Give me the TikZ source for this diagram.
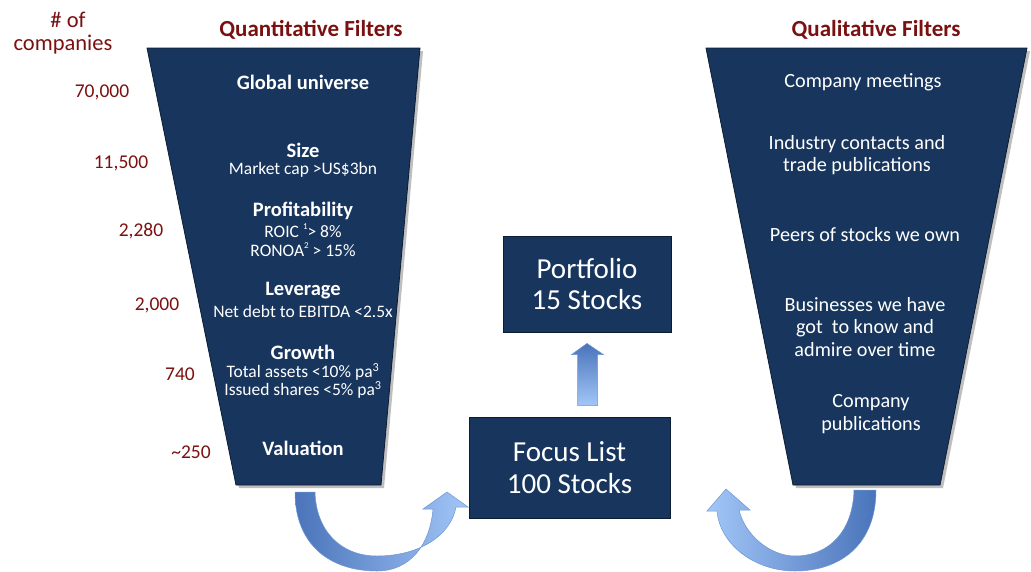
\documentclass[tikz,border=0pt]{standalone}
\usepackage{fontspec}
\setmainfont{Carlito}
\usetikzlibrary{calc}
\definecolor{navy}{RGB}{24,54,93}
\definecolor{navyedge}{RGB}{12,28,50}
\definecolor{darkred}{RGB}{122,16,16}
\definecolor{arrdark}{RGB}{74,116,186}
\definecolor{arrlight}{RGB}{162,198,248}
\definecolor{arredge}{RGB}{110,150,210}
\newcommand{\fs}[2]{\fontsize{#1}{#2}\selectfont}
\newcommand{\sups}[1]{\raisebox{0.45em}{\fs{9}{9}#1}}
\tikzset{
  funnel/.style={fill=navy, draw=navyedge, line width=0.8pt},
  boxnode/.style={fill=navy, draw=navyedge, line width=0.8pt, text=white, align=center, font=\fs{29}{31.5}, inner sep=0pt},
  head/.style={text=darkred, font=\bfseries\fs{23}{23}},
  count/.style={text=darkred, font=\fs{19.5}{20}},
  qhead/.style={text=white, font=\bfseries\fs{20.5}{21}},
  qsub/.style={text=white, font=\fs{17.5}{18}},
  qual/.style={text=white, font=\fs{20.2}{22.5}, align=center},
  bigarrow/.style={draw=arredge, line width=0.5pt}
}
\begin{document}
\begin{tikzpicture}[x=1pt,y=-1pt]
\useasboundingbox (0,0) rectangle (1031,571);
% funnels
\coordinate (LT1) at (147,48); \coordinate (LT2) at (420,48);
\coordinate (LB2) at (381,485); \coordinate (LB1) at (236,485);
\coordinate (RT1) at (706,48); \coordinate (RT2) at (1027,48);
\coordinate (RB2) at (940,485); \coordinate (RB1) at (793,485);
\fill[black!25] ($(LT1)+(3,3)$) -- ($(LT2)+(3,3)$) -- ($(LB2)+(3,3)$) -- ($(LB1)+(3,3)$) -- cycle;
\fill[black!25] ($(RT1)+(3,3)$) -- ($(RT2)+(3,3)$) -- ($(RB2)+(3,3)$) -- ($(RB1)+(3,3)$) -- cycle;
\draw[funnel] (LT1) -- (LT2) -- (LB2) -- (LB1) -- cycle;
\draw[funnel] (RT1) -- (RT2) -- (RB2) -- (RB1) -- cycle;
% headings
\node[text=darkred, font=\fs{22.5}{23}] (of) at (68,20) {\# of};
\node[text=darkred, font=\fs{22.5}{23}] (comp) at (63,45) {companies};
\node[head] (quant) at (311,30) {Quantitative Filters};
\node[head] (qualh) at (876,30) {Qualitative Filters};
% counts
\node[count] (c1) at (102,92) {70,000};
\node[count] (c2) at (121,163) {11,500};
\node[count] (c3) at (141,231) {2,280};
\node[count] (c4) at (157,305) {2,000};
\node[count] (c5) at (180,374) {740};
\node[count] (c6) at (191,452) {\textasciitilde250};
% quantitative filters
\node[qhead] (g) at (303,82) {Global universe};
\node[qhead] (s) at (303,150) {Size};
\node[qsub] (s1) at (303,170) {Market cap >US\$3bn};
\node[qhead] (p) at (303,211) {Profitability};
\node[qsub] (p1) at (303,231) {ROIC \sups{1}> 8\%};
\node[qsub] (p2) at (303,250) {RONOA\sups{2} > 15\%};
\node[qhead] (l) at (303,291) {Leverage};
\node[qsub] (l1) at (303,311) {Net debt to EBITDA <2.5x};
\node[qhead] (gr) at (303,352) {Growth};
\node[qsub] (gr1) at (303,372) {Total assets <10\% pa\textsuperscript{3}};
\node[qsub] (gr2) at (303,390) {Issued shares <5\% pa\textsuperscript{3}};
\node[qhead] (v) at (303,448) {Valuation};
% qualitative filters
\node[qual] (q1) at (863,82) {Company meetings};
\node[qual] (q2) at (857,155) {Industry contacts and\\trade publications};
\node[qual] (q3) at (865,235) {Peers of stocks we own};
\node[qual] (q4) at (865,327) {Businesses we have\\got\ \ to know and\\admire over time};
\node[qual] (q5) at (871,414) {Company\\publications};
% boxes
\node[boxnode, minimum width=168pt, minimum height=96pt] (port) at (587,284) {Portfolio\\15 Stocks};
\node[boxnode, minimum width=201pt, minimum height=101pt] (focus) at (569.5,467.5) {Focus List\\100 Stocks};
% up arrow
\coordinate (ua) at ($(focus.north)+(18,-11)$);
\shade[bigarrow, top color=arrdark, bottom color=arrlight]
  ($(ua)+(-10,0)$) -- ($(ua)+(-10,-51)$) -- ($(ua)+(-16,-51)$) -- ($(port.south)+(0,11)$) -- ($(ua)+(16,-51)$) -- ($(ua)+(10,-51)$) -- ($(ua)+(10,0)$) -- cycle;
% left curved arrow
\shade[bigarrow, left color=arrdark, right color=arrlight]
  (295,492) .. controls (295,545) and (330,571) .. (377,571)
  .. controls (410,571) and (430,545) .. (433,509)
  -- (423,509) -- (447,492) -- (468,507) -- (456,507)
  .. controls (451,535) and (420,556) .. (377,556)
  .. controls (340,556) and (316,530) .. (315,492) -- cycle;
% right curved arrow
\shade[bigarrow, left color=arrlight, right color=arrdark]
  (876,490) .. controls (876,545) and (840,571) .. (795,571)
  .. controls (755,571) and (720,545) .. (717,511)
  -- (707,511) -- (726,489) -- (750,510) -- (739,510)
  .. controls (745,535) and (770,556) .. (795,556)
  .. controls (830,556) and (853,530) .. (854,490) -- cycle;
\end{tikzpicture}
\end{document}
